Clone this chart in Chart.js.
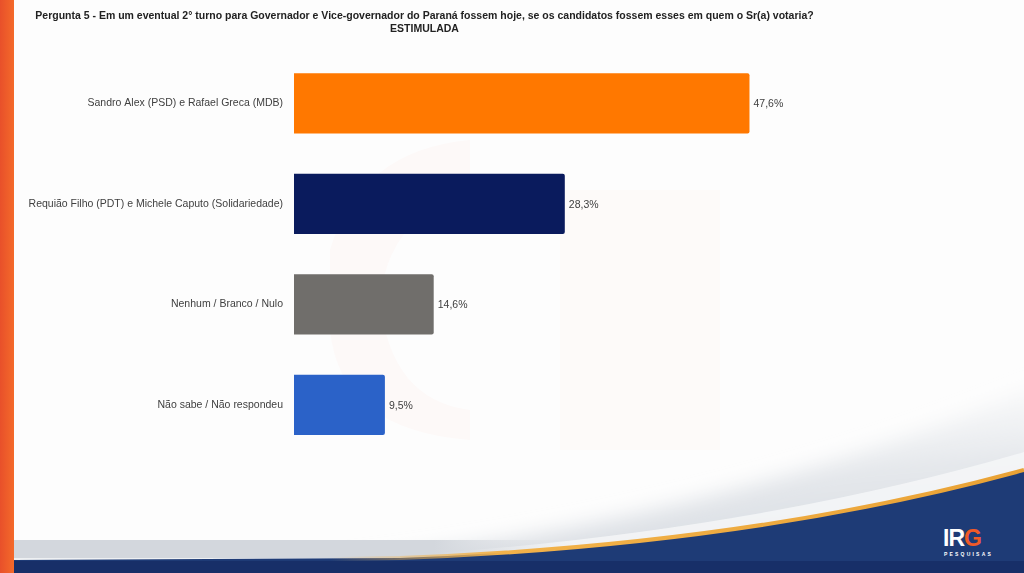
<!DOCTYPE html>
<html>
<head>
<meta charset="utf-8">
<script src="https://cdn.jsdelivr.net/npm/chart.js@4"></script>
<style>
  html, body { margin: 0; padding: 0; background: #fdfdfd; }
  #wrap { position: relative; width: 1024px; height: 573px; overflow: hidden; }
  #bg { position: absolute; left: 0; top: 0; }
  #chart { position: absolute; left: 0; top: 0; }
</style>
</head>
<body>
<div id="wrap">
  <svg id="bg" width="1024" height="573">
    <defs>
      <linearGradient id="silver" x1="0" y1="0" x2="0.3" y2="1">
        <stop offset="0" stop-color="#fdfdfd" stop-opacity="0"/>
        <stop offset="0.6" stop-color="#e4e7eb"/>
        <stop offset="1" stop-color="#d6dae0"/>
      </linearGradient>
      <linearGradient id="faixa" x1="0" y1="0" x2="1" y2="0">
        <stop offset="0" stop-color="#d3d7dd"/>
        <stop offset="0.75" stop-color="#d3d7dd"/>
        <stop offset="1" stop-color="#d8dce1" stop-opacity="0"/>
      </linearGradient>
      <linearGradient id="gold" x1="0" y1="0" x2="1" y2="0">
        <stop offset="0" stop-color="#f2b24a" stop-opacity="0"/>
        <stop offset="0.25" stop-color="#f2b24a"/>
        <stop offset="1" stop-color="#e9a235"/>
      </linearGradient>
      <linearGradient id="stripe" x1="0" y1="0" x2="1" y2="0">
        <stop offset="0" stop-color="#e8502a"/>
        <stop offset="1" stop-color="#f46a2a"/>
      </linearGradient>
      <filter id="blur" x="-10%" y="-10%" width="120%" height="120%">
        <feGaussianBlur stdDeviation="10"/>
      </filter>
    </defs>
    <!-- faint watermark -->
    <path d="M330,250 Q360,150 470,140 L470,200 Q390,210 380,300 Q390,400 470,410 L470,440 Q340,430 330,330 Z" fill="#f05a3c" opacity="0.025"/>
    <rect x="560" y="190" width="160" height="260" fill="#f05a3c" opacity="0.02"/>
    <!-- silver swoosh -->
    <path d="M250,575 Q700,530 1040,385 L1040,600 L250,600 Z" fill="url(#silver)" filter="url(#blur)"/>
    <path d="M380,557 Q740,535 1024,452 L1024,472 Q750,545 400,558 Z" fill="#f6f7f9" opacity="0.8"/>
    <rect x="14" y="540" width="560" height="19" fill="url(#faixa)"/>
    <rect x="14" y="558" width="520" height="2" fill="#eef0f2"/>
    <!-- navy band -->
    <path d="M14,560 L400,558 Q750,545 1024,470 L1024,573 L14,573 Z" fill="#1e3b76"/>
    <rect x="14" y="561" width="1010" height="12" fill="#172f68"/>
    <path d="M330,559 L400,558 Q750,545 1024,470" fill="none" stroke="url(#gold)" stroke-width="4"/>
    <!-- left stripe -->
    <rect x="0" y="0" width="14" height="573" fill="url(#stripe)"/>
    <!-- logo -->
    <text x="943" y="546" font-family="Liberation Sans, Arial, sans-serif" font-weight="bold" font-size="23" fill="#ffffff" letter-spacing="-1">IR<tspan fill="#f05a28">G</tspan></text>
    <text x="944" y="556" font-family="Liberation Sans, Arial, sans-serif" font-weight="bold" font-size="5" fill="#ffffff" letter-spacing="2.2">PESQUISAS</text>
  </svg>
  <canvas id="chart" width="1024" height="573"></canvas>
</div>
<script>
const categorias = [
  'Sandro Alex (PSD) e Rafael Greca (MDB)',
  'Requião Filho (PDT) e Michele Caputo (Solidariedade)',
  'Nenhum / Branco / Nulo',
  'Não sabe / Não respondeu'
];
const valores = [47.6, 28.3, 14.6, 9.5];
const cores = ['#ff7800', '#0a1b5d', '#706e6b', '#2b62c8'];
const titulo = [
  'Pergunta 5 - Em um eventual 2° turno para Governador e Vice-governador do Paraná fossem hoje, se os candidatos fossem esses em quem o Sr(a) votaria?',
  'ESTIMULADA'
];

// rótulos de valor ao lado das barras
const rotulos = {
  id: 'rotulos',
  afterDatasetsDraw(chart) {
    const ctx = chart.ctx;
    const meta = chart.getDatasetMeta(0);
    ctx.save();
    ctx.font = '10.5px "Liberation Sans", Arial, sans-serif';
    ctx.fillStyle = '#404040';
    ctx.textAlign = 'left';
    ctx.textBaseline = 'middle';
    meta.data.forEach((bar, i) => {
      const txt = valores[i].toFixed(1).replace('.', ',') + '%';
      ctx.fillText(txt, bar.x + 4, bar.y + 1);
    });
    ctx.restore();
  }
};

new Chart(document.getElementById('chart').getContext('2d'), {
  type: 'bar',
  data: {
    labels: categorias,
    datasets: [{
      data: valores,
      backgroundColor: cores,
      borderRadius: 2,
      borderSkipped: 'start',
      categoryPercentage: 1,
      barPercentage: 0.6
    }]
  },
  options: {
    indexAxis: 'y',
    responsive: false,
    animation: false,
    layout: { padding: { left: 0, right: 175, top: 0, bottom: 118 } },
    plugins: {
      legend: { display: false },
      tooltip: { enabled: false },
      title: {
        display: true,
        text: titulo,
        color: '#222',
        font: { family: '"Liberation Sans", Arial, sans-serif', size: 10.5, weight: 'bold', lineHeight: 1.2 },
        padding: { top: 10, bottom: 18 }
      }
    },
    scales: {
      x: {
        display: false,
        min: 0,
        max: 58
      },
      y: {
        grid: { display: false, drawTicks: false },
        border: { display: false },
        ticks: {
          color: '#404040',
          padding: 11,
          font: { family: '"Liberation Sans", Arial, sans-serif', size: 10.5 }
        },
        afterFit(scale) { scale.width = 294; }
      }
    }
  },
  plugins: [rotulos]
});
</script>
</body>
</html>
